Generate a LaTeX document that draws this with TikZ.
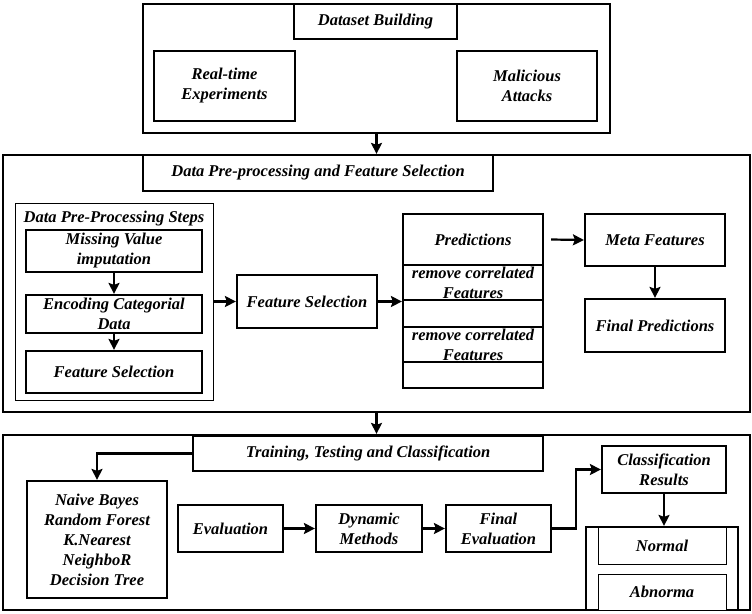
\documentclass[tikz,border=0pt]{standalone}
\usepackage{fontspec}
\setmainfont{Liberation Serif}
\usetikzlibrary{arrows.meta,positioning,calc}
\tikzset{
  box/.style={draw=black, fill=white, align=center,
              font=\fontsize{16.5}{20}\selectfont\bfseries\itshape,
              inner sep=1pt, line width=2.2pt},
  thinbox/.style={box, line width=1pt},
  frame/.style={draw=black, line width=2.2pt},
  row/.style={box, minimum width=140pt, inner sep=0pt},
  ar/.style={-{Stealth[length=11pt,width=11pt,inset=2pt]}, line width=2.2pt},
  lbl/.style={font=\fontsize{16.5}{20}\selectfont\bfseries\itshape}
}
\begin{document}
\begin{tikzpicture}[x=1pt,y=-1pt]
  \useasboundingbox (0,0) rectangle (752,613);

  % dataset building
  \node[frame, minimum width=467pt, minimum height=129pt] (top) at (376.5,68.5) {};
  \node[box, minimum width=163pt, minimum height=35pt] (dsb) at (375.5,21.5) {Dataset Building};
  \node[box, minimum width=141pt, minimum height=70pt] (rte) at (224.5,86) {Real-time\\Experiments};
  \node[box, minimum width=140pt, minimum height=70pt] (mal) at (527,86) {Malicious\\Attacks};

  % pre-processing and feature selection
  \node[frame, minimum width=747pt, minimum height=257pt] (mid) at (376.5,283.5) {};
  \node[box, minimum width=350pt, minimum height=36pt] (midtitle) at (318,173)
      {Data Pre-processing and Feature Selection};
  \node[thinbox, minimum width=198pt, minimum height=197pt] (steps) at (114,301.5) {};
  \node[lbl] (stepslbl) at (114,219) {Data Pre-Processing Steps};
  \node[box, minimum width=176pt, minimum height=42pt] (mvi) at (114,251) {Missing Value\\imputation};
  \node[box, minimum width=176pt, minimum height=38pt] (ecd) at (114,314) {Encoding Categorial\\Data};
  \node[box, minimum width=176pt, minimum height=42pt] (fs1) at (114,372) {Feature Selection};
  \node[box, minimum width=140pt, minimum height=53pt] (fs2) at (307,301.5) {Feature Selection};

  \node[row, minimum height=51pt] (pred) at (473,239.5) {Predictions};
  \node[row, minimum height=35pt] (rcf1) at (473,282.5) {remove correlated\\Features};
  \node[row, minimum height=27pt] (gap1) at (473,313.5) {};
  \node[row, minimum height=35pt] (rcf2) at (473,344.5) {remove correlated\\Features};
  \node[row, minimum height=26pt] (gap2) at (473,375) {};

  \node[box, minimum width=140pt, minimum height=52pt] (meta) at (655,240) {Meta Features};
  \node[box, minimum width=140pt, minimum height=53pt] (fpred) at (655,325.5) {Final Predictions};

  % training, testing and classification
  \node[frame, minimum width=747pt, minimum height=175pt] (bot) at (376.5,522.5) {};
  \node[box, minimum width=350pt, minimum height=35pt] (ttc) at (368,453.5)
      {Training, Testing and Classification};
  \node[box, minimum width=140pt, minimum height=117pt] (nb) at (97,539.5)
      {Naive Bayes\\Random Forest\\K.Nearest\\NeighboR\\Decision Tree};
  \node[box, minimum width=105pt, minimum height=47pt] (eval) at (230.5,528.5) {Evaluation};
  \node[box, minimum width=106pt, minimum height=47pt] (dyn) at (369,528.5) {Dynamic\\Methods};
  \node[box, minimum width=105pt, minimum height=47pt] (feval) at (498.5,528.5) {Final\\Evaluation};
  \node[box, minimum width=124pt, minimum height=47pt] (cres) at (664,469.5) {Classification\\Results};
  \node[frame, minimum width=152pt, minimum height=83pt] (outc) at (662,568.5) {};
  \node[thinbox, minimum width=128pt, minimum height=37pt] (norm) at (662,545.5) {Normal};
  \node[thinbox, minimum width=128pt, minimum height=36pt] (abn) at (662,592) {Abnorma};

  \draw[ar] (top) -- (mid);
  \draw[ar] (mid) -- (bot);
  \draw[ar] (mvi) -- (ecd);
  \draw[ar] (ecd) -- (fs1);
  \draw[ar] (steps.east) -- (fs2.west);
  \draw[ar] (fs2.east) -- (fs2.east -| gap1.west);
  \draw[ar] ([xshift=7pt]pred.east) -- (meta.west);
  \draw[ar] (meta) -- (fpred);
  \draw[ar] (ttc.west) -| (nb.north);
  \draw[ar] (eval) -- (dyn);
  \draw[ar] (dyn) -- (feval);
  \draw[ar] (feval.east) -- ++(24,0) |- (cres.west);
  \draw[ar] (cres.south) -- (cres.south |- outc.north);
\end{tikzpicture}
\end{document}
